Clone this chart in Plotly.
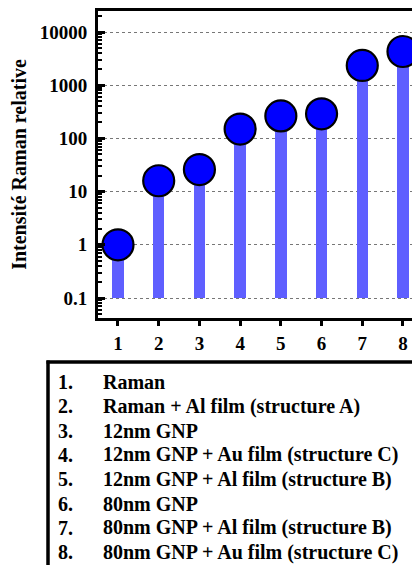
import plotly.graph_objects as go

# échantillons (1..8) et intensité Raman relative
samples = [1, 2, 3, 4, 5, 6, 7, 8]
intensity = [1, 16, 26, 150, 265, 290, 2350, 4300]
y_ticks = [0.1, 1, 10, 100, 1000, 10000]
y_ticktext = ["0.1", "1", "10", "100", "1000", "10000"]
legend_num = ["1.", "2.", "3.", "4.", "5.", "6.", "7.", "8."]
legend_txt = [
    "Raman",
    "Raman + Al film (structure A)",
    "12nm GNP",
    "12nm GNP + Au film (structure C)",
    "12nm GNP + Al film (structure B)",
    "80nm GNP",
    "80nm GNP + Al film (structure B)",
    "80nm GNP + Au film (structure C)",
]
bar_base = 0.1

# la page ajoute une marge de 8 px autour de la figure
OFF = 8
W, H = 420 - OFF, 565 - OFF
L, R, T, B = 98 - OFF, 0, 11 - OFF, 247
PW, PH = W - L - R, H - T - B
FONT = "Liberation Serif, Times New Roman, serif"


def px_x(p):
    # pixel de la page -> coordonnée papier
    return (p - OFF - L) / PW


def px_y(p):
    return (H - B - (p - OFF)) / PH


x_range = [0.509, 8.418]
y_range = [-1.376, 4.395]

fig = go.Figure()

fig.add_trace(go.Bar(
    x=samples,
    y=[v - bar_base for v in intensity],
    base=bar_base,
    width=0.28,
    marker=dict(color="#5f5fff", line=dict(width=0)),
    showlegend=False,
    hoverinfo="skip",
))

fig.add_trace(go.Scatter(
    x=samples,
    y=intensity,
    mode="markers",
    marker=dict(size=31, color="#0000ff", line=dict(color="black", width=2.2)),
    cliponaxis=False,
    showlegend=False,
))

tick_font = dict(family=FONT, size=19, color="black", weight="bold")

fig.update_layout(
    width=W, height=H,
    margin=dict(l=L, r=R, t=T, b=B, autoexpand=False),
    paper_bgcolor="white",
    plot_bgcolor="white",
    bargap=0,
    xaxis=dict(
        range=x_range, tickvals=samples, ticktext=[str(s) for s in samples],
        showline=True, linecolor="black", linewidth=3, mirror=True,
        ticks="outside", ticklen=5, tickwidth=2.5, tickcolor="black",
        showgrid=False, zeroline=False, tickfont=tick_font,
        ticklabelstandoff=1, automargin=False,
    ),
    xaxis2=dict(
        range=x_range, tickvals=samples, overlaying="x", anchor="y", side="bottom",
        ticks="inside", ticklen=5, tickwidth=2.5, tickcolor="black",
        showticklabels=False, showline=False, showgrid=False, zeroline=False,
        automargin=False,
    ),
    yaxis=dict(
        type="log", range=y_range, tickvals=y_ticks, ticktext=y_ticktext,
        showline=True, linecolor="black", linewidth=3, mirror=False,
        ticks="inside", ticklen=7, tickwidth=3, tickcolor="black",
        minor=dict(ticks="inside", ticklen=4, tickwidth=2, tickcolor="black", dtick="D1", showgrid=False),
        showgrid=True, gridcolor="#777777", gridwidth=1, griddash="dot",
        zeroline=False, tickfont=tick_font, ticklabelstandoff=4, automargin=False,
        title=dict(text="Intensité Raman relative",
                   font=dict(family=FONT, size=20, color="black", weight="bold"),
                   standoff=12),
    ),
    yaxis2=dict(
        type="log", range=y_range, tickvals=y_ticks, overlaying="y", anchor="x", side="right",
        ticks="inside", ticklen=7, tickwidth=3, tickcolor="black",
        minor=dict(ticks="inside", ticklen=4, tickwidth=2, tickcolor="black", dtick="D1"),
        showticklabels=False, showline=False, showgrid=False, zeroline=False,
        automargin=False,
    ),
)

# encadré de légende (bord haut et gauche visibles)
fig.add_shape(type="line", xref="paper", yref="paper",
              x0=px_x(46.5), x1=px_x(425), y0=px_y(362), y1=px_y(362),
              line=dict(color="black", width=3.5))
fig.add_shape(type="line", xref="paper", yref="paper",
              x0=px_x(48), x1=px_x(48), y0=px_y(360.5), y1=px_y(570),
              line=dict(color="black", width=3.5))

leg_font = dict(family=FONT, size=20, color="black", weight="bold")
for i, (n, t) in enumerate(zip(legend_num, legend_txt)):
    yc = px_y(382 + 24.3 * i)
    fig.add_annotation(x=px_x(56), y=yc, xref="paper", yref="paper", text=n,
                       showarrow=False, xanchor="left", yanchor="middle", font=leg_font)
    fig.add_annotation(x=px_x(101), y=yc, xref="paper", yref="paper", text=t,
                       showarrow=False, xanchor="left", yanchor="middle", font=leg_font)

fig.write_html("out.html")
